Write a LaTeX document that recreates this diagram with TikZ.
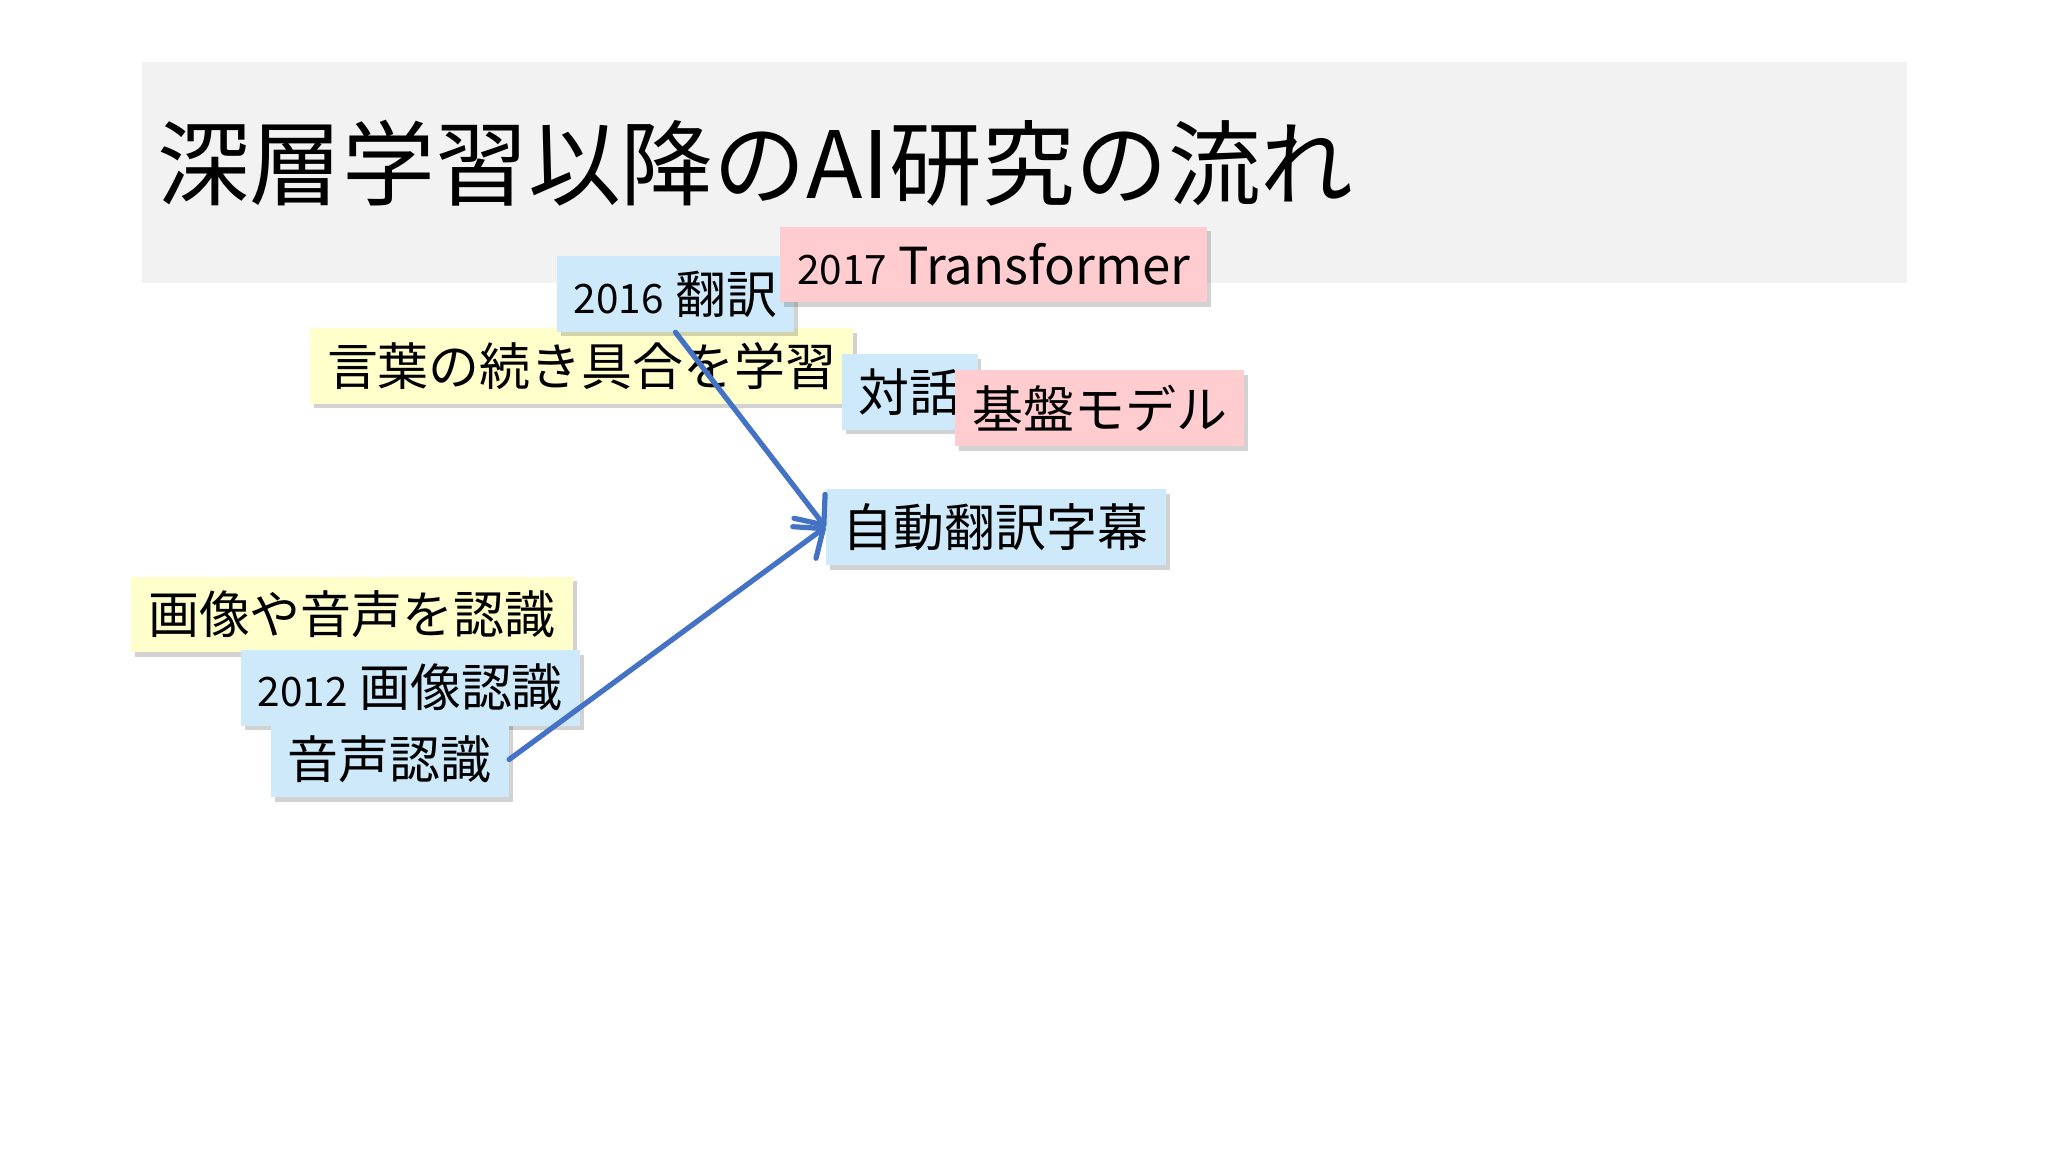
\documentclass[tikz,border=0pt]{standalone}
\usepackage{fontspec}
\setmainfont{Noto Sans CJK JP}
\usetikzlibrary{arrows.meta,shadows}
\definecolor{titlegrey}{HTML}{F2F2F2}
\definecolor{boxblue}{HTML}{CDE9FA}
\definecolor{boxpink}{HTML}{FFCCCF}
\definecolor{boxyellow}{HTML}{FFFFCC}
\definecolor{arrowblue}{HTML}{4472C4}
\tikzset{
  tbox/.style={anchor=west, minimum height=29pt, inner xsep=6.5pt, inner ysep=0pt,
    font=\fontsize{19.5}{22}\selectfont,
    drop shadow={shadow xshift=1.5pt, shadow yshift=-1.8pt, opacity=0.25, fill=black!70}},
  bluebox/.style={tbox, fill=boxblue},
  pinkbox/.style={tbox, fill=boxpink},
  yellowbox/.style={tbox, fill=boxyellow},
  flowarrow/.style={draw=arrowblue, line width=2pt, line cap=round,
    -{Straight Barb[length=9pt,width=15pt,line width=2pt,round]}},
}
\newcommand{\smallnum}[1]{{\fontsize{15.5}{18}\selectfont #1}}
\begin{document}
\begin{tikzpicture}[x=0.5pt,y=-0.5pt]
\useasboundingbox (0,0) rectangle (1568,882);
\fill[white] (0,0) rectangle (1568,882);
% title
\node[fill=titlegrey, minimum width=676pt, minimum height=84.5pt, inner sep=0pt, anchor=north west] (titlebox) at (108,47) {};
\node[anchor=west, inner sep=0pt, font=\fontsize{35.5}{40}\selectfont] (title) at (120,125) {深層学習以降のAI研究の流れ};
% boxes
\node[yellowbox] (kotoba) at (237,280) {言葉の続き具合を学習};
\node[bluebox] (hon2016) at (426,225) {\smallnum{2016} 翻訳};
\node[pinkbox] (trans) at (597,202.5) {\smallnum{2017} Transformer\hspace{2pt}};
\node[bluebox] (taiwa) at (644,300) {対話};
\node[pinkbox] (kiban) at (731,312.5) {基盤モデル};
\node[bluebox] (jido) at (632,403.5) {自動翻訳字幕};
\node[yellowbox] (gazoon) at (100,470.5) {画像や音声を認識};
\node[bluebox] (gazo2012) at (184,526.5) {\smallnum{2012} 画像認識\hspace{2pt}};
\node[bluebox] (onsei) at (207,581.5) {音声認識};
% arrows
\draw[flowarrow] (hon2016.south) -- (jido.west);
\draw[flowarrow] (onsei.east) -- (jido.west);
\end{tikzpicture}
\end{document}
